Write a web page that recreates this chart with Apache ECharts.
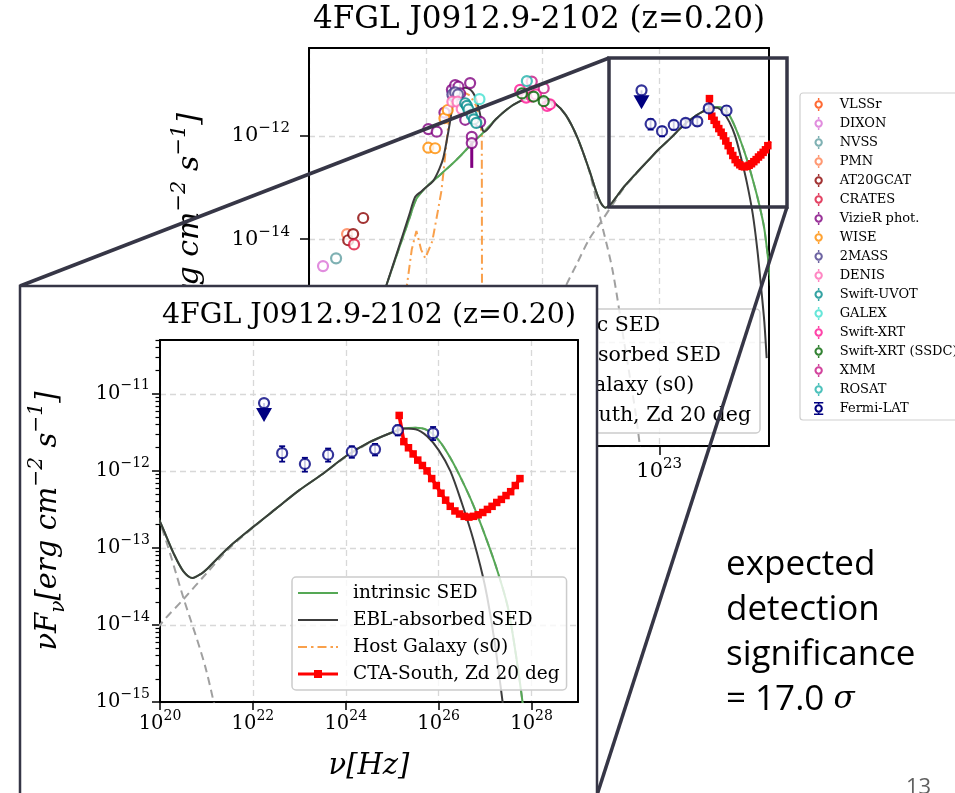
<!DOCTYPE html>
<html>
<head>
<meta charset="utf-8">
<script src="https://cdn.jsdelivr.net/npm/echarts@6.0.0/dist/echarts.min.js"></script>
<style>
html,body{margin:0;padding:0;background:#ffffff;}
#chart{width:955px;height:793px;}
</style>
</head>
<body>
<div id="chart"></div>
<script>
// ---------------- DATA : [log10 nu (Hz), log10 nuFnu (erg cm^-2 s^-1)] ----------------
const catalogNames = ['VLSSr','DIXON','NVSS','PMN','AT20GCAT','CRATES','VizieR phot.','WISE','2MASS','DENIS',
  'Swift-UVOT','GALEX','Swift-XRT','Swift-XRT (SSDC)','XMM','ROSAT','Fermi-LAT'];
const catalogColors = ['#ff4500','#da70d6','#5f9ea0','#ff7f50','#8b0000','#dc143c','#800080','#ff8c00','#483d8b','#ff69b4',
  '#008b8b','#40e0d0','#ff1493','#006400','#c71585','#20b2aa','#000080'];

const vlssrData = [];
const dixonData = [[8.60,-14.52]];
const nvssData = [[9.16,-14.37]];
const pmnData = [[9.63,-13.90]];
const at20gcatData = [[9.68,-14.02],[9.89,-13.90],[10.32,-13.59]];
const cratesData = [[9.93,-14.10]];
const vizierData = [[13.11,-11.87],[13.47,-11.92],[13.80,-11.55],[14.12,-11.11],[14.26,-11.02],[14.40,-11.05],
  [14.47,-11.18],[14.19,-11.24],[14.90,-10.98],[14.69,-11.69],[14.97,-12.02],[14.97,-12.14],[15.33,-11.73]];
const vizierErr = [[14.97,-12.14,0.48,0.0]];
const wiseData = [[13.11,-12.23],[13.40,-12.24],[13.80,-11.66],[13.94,-11.50]];
const twomassData = [[14.14,-11.20],[14.26,-11.16],[14.38,-11.20]];
const denisData = [[14.14,-11.34],[14.36,-11.34],[14.54,-11.48]];
const uvotData = [[14.69,-11.37],[14.76,-11.42],[14.83,-11.49],[14.97,-11.60],[15.06,-11.68],[15.16,-11.75]];
const galexData = [[15.30,-11.29]];
const xrtData = [[17.04,-11.11],[17.30,-11.26],[17.54,-11.24],[17.72,-11.20],[18.20,-11.42],[18.32,-11.39]];
const xrtSsdcData = [[17.12,-11.18],[17.62,-11.24],[18.05,-11.33]];
const xmmData = [[17.54,-10.95],[18.05,-11.08]];
const rosatData = [[17.33,-10.94]];

const fermiLogNu = [22.63, 23.12, 23.62, 24.13, 24.63, 25.12, 25.88];
const fermiLogF  = [-11.77, -11.91, -11.79, -11.75, -11.72, -11.47, -11.51];
const fermiErrLo = [0.11, 0.10, 0.09, 0.08, 0.08, 0.07, 0.09];
const fermiErrHi = [0.09, 0.08, 0.08, 0.07, 0.07, 0.06, 0.08];
const fermiUL = [[22.24, -11.12]];

const ctaLogNu = [25.15,25.25,25.35,25.45,25.55,25.65,25.75,25.85,25.95,26.05,26.15,26.25,26.35,26.45,
  26.55,26.65,26.75,26.85,26.95,27.05,27.15,27.25,27.35,27.45,27.55,27.65,27.75];
const ctaLogF = [-11.28,-11.62,-11.70,-11.78,-11.86,-11.93,-12.00,-12.10,-12.19,-12.29,-12.38,-12.46,-12.52,-12.56,
  -12.59,-12.60,-12.59,-12.57,-12.54,-12.50,-12.46,-12.41,-12.37,-12.32,-12.27,-12.19,-12.10];

const synchrotronComp = [[10.5,-16.0],[11.0,-15.3],[11.3,-14.91],[11.8,-14.25],[12.3,-13.6],[12.6,-13.22],[13.0,-13.0],
  [13.5,-12.8],[14.0,-12.6],[14.5,-12.38],[15.0,-12.14],[15.5,-11.92],[16.0,-11.68],[16.5,-11.48],[17.0,-11.34],
  [17.5,-11.27],[18.0,-11.27],[18.5,-11.36],[19.0,-11.6],[19.5,-12.05],[20.0,-12.68],[20.5,-13.64],[21.0,-14.6],
  [21.5,-16.0],[22.0,-17.4],[22.3,-18.5]];
const inverseComptonComp = [[17.3,-17.0],[18.0,-16.0],[18.9,-15.0],[19.5,-14.45],[20.0,-14.0],[20.5,-13.67],[21.0,-13.33],
  [21.5,-13.0],[22.0,-12.74],[22.5,-12.49],[23.0,-12.25],[23.5,-12.04],[24.0,-11.82],[24.5,-11.64],[25.0,-11.5],
  [25.5,-11.44],[25.75,-11.47],[26.0,-11.6],[26.25,-11.83],[26.5,-12.12],[26.75,-12.45],[27.0,-12.84],[27.25,-13.27],
  [27.5,-13.8],[27.75,-14.75],[27.9,-15.5],[28.0,-16.2]];
const intrinsicSED = [[10.5,-16.0],[11.0,-15.3],[11.3,-14.91],[11.8,-14.25],[12.3,-13.6],[12.6,-13.22],[13.0,-13.0],
  [13.5,-12.8],[14.0,-12.6],[14.5,-12.38],[15.0,-12.14],[15.5,-11.92],[16.0,-11.68],[16.5,-11.48],[17.0,-11.34],
  [17.5,-11.27],[18.0,-11.27],[18.5,-11.36],[19.0,-11.6],[19.5,-12.04],[20.0,-12.66],[20.3,-13.08],[20.5,-13.30],
  [20.7,-13.39],[20.9,-13.33],[21.0,-13.28],[21.23,-13.14],[21.5,-12.98],[22.0,-12.73],[22.5,-12.49],[23.0,-12.25],
  [23.5,-12.04],[24.0,-11.81],[24.5,-11.63],[25.0,-11.5],[25.25,-11.45],[25.5,-11.44],[25.75,-11.47],[26.0,-11.6],
  [26.25,-11.83],[26.5,-12.12],[26.75,-12.45],[27.0,-12.84],[27.25,-13.27],[27.5,-13.8],[27.75,-14.75],[27.9,-15.5],[28.0,-16.2]];
const eblAbsorbedSED = [[10.5,-16.0],[11.0,-15.3],[11.3,-14.91],[11.8,-14.22],[12.3,-13.52],[12.55,-13.18],[12.8,-13.08],
  [13.0,-13.0],[13.32,-12.87],[13.6,-12.62],[13.75,-12.43],[13.92,-12.04],[14.05,-11.7],[14.2,-11.3],[14.4,-11.1],
  [14.7,-11.07],[15.0,-11.15],[15.2,-11.35],[15.38,-11.7],[15.42,-11.86],[15.5,-11.92],[16.0,-11.68],[16.5,-11.48],
  [17.0,-11.34],[17.5,-11.27],[18.0,-11.27],[18.5,-11.36],[19.0,-11.6],[19.5,-12.04],[20.0,-12.66],[20.3,-13.08],
  [20.5,-13.30],[20.7,-13.39],[20.9,-13.33],[21.0,-13.28],[21.23,-13.14],[21.5,-12.98],[22.0,-12.73],[22.5,-12.49],
  [23.0,-12.25],[23.5,-12.04],[24.0,-11.81],[24.5,-11.63],[25.0,-11.5],[25.25,-11.45],[25.5,-11.46],[25.75,-11.55],
  [26.0,-11.73],[26.25,-12.0],[26.5,-12.42],[26.75,-12.9],[27.0,-13.5],[27.2,-14.2],[27.37,-14.97],[27.5,-15.6],[27.6,-16.3]];
const hostGalaxy = [[11.9,-16.5],[12.2,-14.87],[12.4,-14.2],[12.6,-13.84],[12.8,-14.2],[12.98,-14.37],[13.28,-14.04],
  [13.5,-13.5],[13.67,-13.07],[13.75,-12.74],[13.97,-11.77],[14.1,-11.35],[14.3,-11.18],[14.6,-11.15],[14.9,-11.22],
  [15.2,-11.45],[15.4,-11.95],[15.42,-19.0]];

// axis ranges and tick exponents
const bgXRange = [8, 27.7], bgYRange = [-18, Math.log10(5e-11)];
const insetXRange = [20, 29], insetYRange = [-15, Math.log10(5e-11)];
const bgXTicks = [8, 13, 18, 23];
const bgYTicks = [-18, -16, -14, -12];
const insetXTicks = [20, 22, 24, 26, 28];
const insetYTicks = [-15, -14, -13, -12, -11];
const minorMultipliers = [2,3,4,5,6,7,8,9];

const modelNames = ['intrinsic SED','EBL-absorbed SED','Host Galaxy (s0)','CTA-South, Zd 20 deg'];
const modelColors = ['#55a855','#3c3c3c','#f9a04b','#ff0000'];

// ---------------- build ----------------
const catalogData = [vlssrData,dixonData,nvssData,pmnData,at20gcatData,cratesData,vizierData,wiseData,twomassData,
  denisData,uvotData,galexData,xrtData,xrtSsdcData,xmmData,rosatData];
const fermiPts = fermiLogNu.map((v,i)=>[v, fermiLogF[i]]);
const fermiErr = fermiLogNu.map((v,i)=>[v, fermiLogF[i], fermiErrLo[i], fermiErrHi[i]]);
const ctaPts = ctaLogNu.map((v,i)=>[v, ctaLogF[i]]);

const insetMinor = [];
insetYTicks.forEach(n => {
  minorMultipliers.forEach(k => { const v = n + Math.log10(k); if (v < insetYRange[1] + 1e-9) insetMinor.push(v); });
});

const SERIF = 'DejaVu Serif';
const FRAME = '#363646';

function tickFmt(v) {
  const n = Math.round(v);
  return '{b|10}{s|' + (n < 0 ? '\u2212' + (-n) : n) + '}';
}
function supRich(base, sup, off) {
  return {
    b: {fontFamily: SERIF, fontSize: base, color: '#000', lineHeight: 30, verticalAlign: 'middle'},
    s: {fontFamily: SERIF, fontSize: sup, color: '#000', lineHeight: 2*(15 - off), verticalAlign: 'top'}
  };
}
function nameRich(base, small) {
  return {
    m: {fontFamily: SERIF, fontStyle: 'italic', fontSize: base, color: '#000', lineHeight: 42, verticalAlign: 'middle'},
    p: {fontFamily: SERIF, fontStyle: 'italic', fontSize: small, color: '#000', lineHeight: 22, verticalAlign: 'top'},
    d: {fontFamily: SERIF, fontStyle: 'italic', fontSize: small, color: '#000', lineHeight: 26, verticalAlign: 'bottom'}
  };
}
const yName = '{m|\u03bdF}{d|\u03bd}{m|[erg cm}{p|\u22122}{m| s}{p|\u22121}{m|]}';
const xName = '{m|\u03bd[Hz]}';

function axesFor(gi, xr, yr, xt, yt, zl, fs, sfs, off, xMargin, yMargin, nameFs, xGap, yGap, tickLen, xStep, yStep) {
  const axLine = {show: true, lineStyle: {color: '#000', width: 2}};
  const split = {show: true, lineStyle: {color: '#d8d8d8', width: 1.3, type: [6, 4]}};
  const x = [
    {gridIndex: gi, type: 'value', min: xr[0], max: xr[1], interval: xStep, position: 'bottom', zlevel: zl,
      axisLine: axLine, axisTick: {show: true, length: tickLen, customValues: xt, lineStyle: {color: '#000', width: 1.5}},
      axisLabel: {formatter: tickFmt, customValues: xt, rich: supRich(fs, sfs, off), margin: xMargin},
      splitLine: split, name: xName, nameLocation: 'middle', nameGap: xGap, nameTextStyle: {rich: nameRich(nameFs, nameFs*0.7)}},
    {gridIndex: gi, type: 'value', min: xr[0], max: xr[1], position: 'top', zlevel: zl,
      axisLine: axLine, axisTick: {show: false}, axisLabel: {show: false}, splitLine: {show: false}}
  ];
  const y = [
    {gridIndex: gi, type: 'value', min: yr[0], max: yr[1], interval: yStep, position: 'left', zlevel: zl,
      axisLine: axLine, axisTick: {show: true, length: tickLen, customValues: yt, lineStyle: {color: '#000', width: 1.5}},
      axisLabel: {formatter: tickFmt, customValues: yt, rich: supRich(fs, sfs, off), margin: yMargin},
      splitLine: split, name: yName, nameLocation: 'middle', nameGap: yGap, nameRotate: 90,
      nameTextStyle: {rich: nameRich(nameFs, nameFs*0.7)}},
    {gridIndex: gi, type: 'value', min: yr[0], max: yr[1], position: 'right', zlevel: zl,
      axisLine: axLine, axisTick: {show: false}, axisLabel: {show: false}, splitLine: {show: false}}
  ];
  return {x, y};
}

const bgAxes = axesFor(0, bgXRange, bgYRange, bgXTicks, bgYTicks, 0, 21, 15, 6, 11, 19, 30, 50, 98, 9, 5, 2);
const inAxes = axesFor(1, insetXRange, insetYRange, insetXTicks, insetYTicks, 2, 19.5, 14, 7, 7, 10, 29, 43, 91, 8, 2, 1);
const minorAxis = {gridIndex: 1, type: 'value', min: insetYRange[0], max: insetYRange[1], position: 'left', zlevel: 2,
  axisLine: {show: false}, axisLabel: {show: false}, splitLine: {show: false},
  axisTick: {show: true, length: 4.5, customValues: insetMinor, lineStyle: {color: '#000', width: 1.2}}};

function errRender(color, w, cap) {
  return function (params, api) {
    const x = api.value(0), y = api.value(1), lo = api.value(2), hi = api.value(3);
    const p1 = api.coord([x, y - lo]), p2 = api.coord([x, y + hi]);
    const st = {stroke: color, lineWidth: w};
    const ch = [{type: 'line', shape: {x1: p1[0], y1: p1[1], x2: p2[0], y2: p2[1]}, style: st}];
    if (cap) {
      ch.push({type: 'line', shape: {x1: p1[0]-cap, y1: p1[1], x2: p1[0]+cap, y2: p1[1]}, style: st});
      ch.push({type: 'line', shape: {x1: p2[0]-cap, y1: p2[1], x2: p2[0]+cap, y2: p2[1]}, style: st});
    }
    return {type: 'group', children: ch};
  };
}
function ulRender(params, api) {
  const p = api.coord([api.value(0), api.value(1)]);
  const c = '#000080';
  return {type: 'group', children: [
    {type: 'line', shape: {x1: p[0], y1: p[1], x2: p[0], y2: p[1] + 9}, style: {stroke: c, lineWidth: 2}},
    {type: 'polygon', shape: {points: [[p[0]-8, p[1]+5], [p[0]+8, p[1]+5], [p[0], p[1]+19]]}, style: {fill: c}}
  ]};
}

function modelSeries(gi, zl, lw) {
  const xi = gi * 2, yi = gi * 2;
  const base = {type: 'line', xAxisIndex: xi, yAxisIndex: yi, zlevel: zl, symbol: 'none', showSymbol: false, clip: true,
    silent: true, animation: false};
  return [
    Object.assign({}, base, {name: 'synchrotron', data: synchrotronComp, smooth: 0.3,
      lineStyle: {color: '#a0a0a0', width: 2, type: [8, 5]}, z: 1}),
    Object.assign({}, base, {name: 'inverse Compton', data: inverseComptonComp, smooth: 0.3,
      lineStyle: {color: '#a0a0a0', width: 2, type: [8, 5]}, z: 1}),
    Object.assign({}, base, {name: modelNames[2], data: hostGalaxy, smooth: false,
      lineStyle: {color: modelColors[2], width: 2, type: [9, 4, 2, 4]}, itemStyle: {color: modelColors[2]}, z: 2}),
    Object.assign({}, base, {name: modelNames[0], data: intrinsicSED, smooth: 0.3,
      lineStyle: {color: modelColors[0], width: lw}, itemStyle: {color: modelColors[0]}, z: 2}),
    Object.assign({}, base, {name: modelNames[1], data: eblAbsorbedSED, smooth: 0.3,
      lineStyle: {color: modelColors[1], width: lw}, itemStyle: {color: modelColors[1]}, z: 2}),
    Object.assign({}, base, {name: modelNames[3], data: ctaPts, symbol: 'rect', showSymbol: true, symbolSize: 7.5,
      lineStyle: {color: modelColors[3], width: 3.5}, itemStyle: {color: modelColors[3]}, z: 4}),
    {type: 'custom', name: 'Fermi-LAT', xAxisIndex: xi, yAxisIndex: yi, zlevel: zl, z: 5, silent: true,
      renderItem: errRender('#000080', 1.8, 3), data: fermiErr, itemStyle: {color: '#000080'}},
    {type: 'custom', name: 'Fermi-LAT', xAxisIndex: xi, yAxisIndex: yi, zlevel: zl, z: 5, silent: true,
      renderItem: ulRender, data: fermiUL, itemStyle: {color: '#000080'}},
    {type: 'scatter', name: 'Fermi-LAT', xAxisIndex: xi, yAxisIndex: yi, zlevel: zl, z: 6, silent: true,
      symbol: 'circle', symbolSize: 10, data: fermiPts.concat(fermiUL),
      itemStyle: {color: '#ffffff', borderColor: '#000080', borderWidth: 2.2}}
  ];
}

const series = [];
catalogData.forEach((d, i) => {
  series.push({type: 'scatter', name: catalogNames[i], xAxisIndex: 0, yAxisIndex: 0, zlevel: 0, z: 6, silent: true,
    symbol: 'circle', symbolSize: 10, data: d,
    itemStyle: {color: '#ffffff', borderColor: catalogColors[i], borderWidth: 2.2}});
});
series.push({type: 'custom', name: 'VizieR phot.', xAxisIndex: 0, yAxisIndex: 0, zlevel: 0, z: 5, silent: true,
  renderItem: errRender('#800080', 3, 0), data: vizierErr, itemStyle: {color: '#800080'}});
modelSeries(0, 0, 2).forEach(s => series.push(s));
modelSeries(1, 2, 2).forEach(s => series.push(s));

const catIcon = 'path://M0.5,7A4.5,4.5 0 1,0 9.5,7A4.5,4.5 0 1,0 0.5,7Z M2.7,7A2.3,2.3 0 1,1 7.3,7A2.3,2.3 0 1,1 2.7,7Z M4.2,0L5.8,0L5.8,2.7L4.2,2.7Z M4.2,11.3L5.8,11.3L5.8,14L4.2,14Z';
const fermiIcon = 'path://M0.5,7A4.5,4.5 0 1,0 9.5,7A4.5,4.5 0 1,0 0.5,7Z M2.7,7A2.3,2.3 0 1,1 7.3,7A2.3,2.3 0 1,1 2.7,7Z M4.2,1L5.8,1L5.8,2.7L4.2,2.7Z M4.2,11.3L5.8,11.3L5.8,13L4.2,13Z M0,0L10,0L10,1.6L0,1.6Z M0,12.4L10,12.4L10,14L0,14Z';
const solidLineIcon = 'path://M0,0L40,0L40,2.2L0,2.2Z';
const dashDotIcon = 'path://M0,0L9,0L9,2.2L0,2.2Z M13,0L15.5,0L15.5,2.2L13,2.2Z M19.5,0L28.5,0L28.5,2.2L19.5,2.2Z M32.5,0L35,0L35,2.2L32.5,2.2Z M38,0L40,0L40,2.2L38,2.2Z';
const lineSquareIcon = 'path://M0,2.4L40,2.4L40,5.6L0,5.6Z M16,0L24,0L24,8L16,8Z';
const modelIcons = [solidLineIcon, solidLineIcon, dashDotIcon, lineSquareIcon];
const modelLegendData = modelNames.map((n, i) => ({name: n, icon: modelIcons[i], itemStyle: {color: modelColors[i], borderWidth: 0}}));

const option = {
  animation: false,
  backgroundColor: '#ffffff',
  grid: [
    {left: 309, top: 48, width: 460, height: 398, zlevel: 0, show: false},
    {left: 160, top: 340, width: 418, height: 362, zlevel: 2, show: false}
  ],
  xAxis: bgAxes.x.concat(inAxes.x),
  yAxis: bgAxes.y.concat(inAxes.y).concat([minorAxis]),
  legend: [
    {zlevel: 0, left: 800, top: 93, orient: 'vertical', padding: [5, 40, 5, 14], itemWidth: 10, itemHeight: 13, itemGap: 6,
      backgroundColor: '#ffffff', borderColor: '#cfcfcf', borderWidth: 1.2, borderRadius: 3, selectedMode: false,
      textStyle: {fontFamily: SERIF, fontSize: 13, color: '#000', padding: [0, 0, 0, 11], lineHeight: 13},
      data: catalogNames.map((n, i) => ({name: n, icon: i === 16 ? fermiIcon : catIcon,
        itemStyle: {color: catalogColors[i], borderWidth: 0}}))},
    {zlevel: 0, right: 195, top: 309, orient: 'vertical', padding: [6, 9, 6, 8], itemWidth: 44, itemHeight: 15, itemGap: 8,
      backgroundColor: 'rgba(255,255,255,0.8)', borderColor: '#cccccc', borderWidth: 1.5, borderRadius: 4, selectedMode: false,
      textStyle: {fontFamily: SERIF, fontSize: 20.5, color: '#000', padding: [0, 0, 0, 11], lineHeight: 22},
      data: modelLegendData},
    {zlevel: 2, left: 292, top: 577, orient: 'vertical', padding: [6, 7, 6, 6], itemWidth: 40, itemHeight: 14, itemGap: 7,
      backgroundColor: 'rgba(255,255,255,0.8)', borderColor: '#cccccc', borderWidth: 1.5, borderRadius: 4, selectedMode: false,
      textStyle: {fontFamily: SERIF, fontSize: 18.5, color: '#000', padding: [0, 0, 0, 10], lineHeight: 20},
      data: modelLegendData}
  ],
  graphic: [
    {type: 'text', zlevel: 0, x: 539, y: 20, style: {text: '4FGL J0912.9-2102 (z=0.20)', font: '31px "DejaVu Serif"',
      fill: '#000', align: 'center', verticalAlign: 'middle'}},
    {type: 'line', zlevel: 1, shape: {x1: 609, y1: 58, x2: 20, y2: 286}, style: {stroke: FRAME, lineWidth: 3.5}},
    {type: 'line', zlevel: 1, shape: {x1: 787, y1: 207, x2: 597, y2: 795}, style: {stroke: FRAME, lineWidth: 3.5}},
    {type: 'rect', zlevel: 1, shape: {x: 609, y: 58, width: 178, height: 149}, style: {fill: 'none', stroke: FRAME, lineWidth: 3.5}},
    {type: 'rect', zlevel: 1, shape: {x: 20, y: 286, width: 577, height: 530}, style: {fill: '#ffffff', stroke: FRAME, lineWidth: 2.5}},
    {type: 'text', zlevel: 2, x: 369, y: 316, style: {text: '4FGL J0912.9-2102 (z=0.20)', font: '28.4px "DejaVu Serif"',
      fill: '#000', align: 'center', verticalAlign: 'middle'}},
    {type: 'text', zlevel: 0, x: 726, y: 565, style: {text: 'expected', font: '35px "Open Sans"', fill: '#000', verticalAlign: 'middle'}},
    {type: 'text', zlevel: 0, x: 726, y: 610, style: {text: 'detection', font: '35px "Open Sans"', fill: '#000', verticalAlign: 'middle'}},
    {type: 'text', zlevel: 0, x: 726, y: 655, style: {text: 'significance', font: '35px "Open Sans"', fill: '#000', verticalAlign: 'middle'}},
    {type: 'text', zlevel: 0, x: 726, y: 700, style: {text: '{a|= 17.0 }{g|\u03c3}', verticalAlign: 'middle',
      rich: {a: {fontFamily: 'Open Sans', fontSize: 35, fill: '#000'}, g: {fontFamily: SERIF, fontStyle: 'italic', fontSize: 31, fill: '#000'}}}},
    {type: 'text', zlevel: 0, x: 906, y: 777, style: {text: '13', font: '22px "Open Sans"', fill: '#606060', verticalAlign: 'top'}}
  ],
  series: series
};

const chart = echarts.init(document.getElementById('chart'), null, {renderer: 'canvas'});
chart.setOption(option);
</script>
</body>
</html>
